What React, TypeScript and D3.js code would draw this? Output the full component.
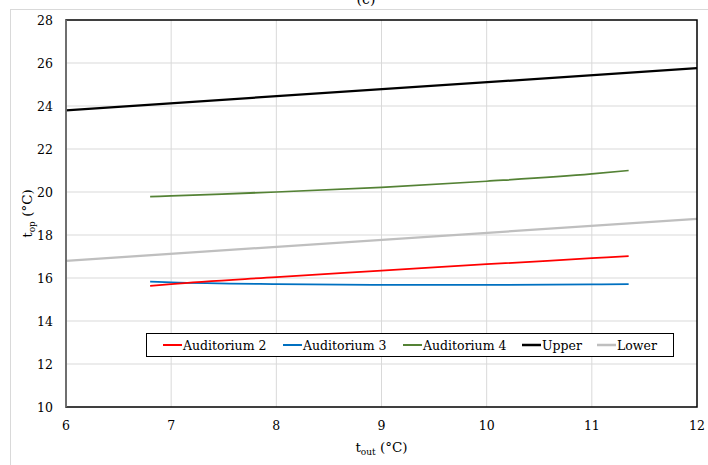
import * as d3 from "d3";
import { useRef, useEffect } from "react";

const xTicks = [6, 7, 8, 9, 10, 11, 12];
const yTicks = [10, 12, 14, 16, 18, 20, 22, 24, 26, 28];

const auditX = [6.8, 7, 8, 9, 10, 11, 11.35];
const auditorium2 = [15.63, 15.72, 16.04, 16.34, 16.64, 16.92, 17.02];
const auditorium3 = [15.83, 15.8, 15.72, 15.68, 15.68, 15.7, 15.72];
const auditorium4 = [19.78, 19.82, 20.0, 20.22, 20.5, 20.84, 21.0];

const limitX = [6, 12];
const upper = [23.8, 25.76];
const lower = [16.8, 18.75];

const seriesNames = ["Auditorium 2", "Auditorium 3", "Auditorium 4", "Upper", "Lower"];
const seriesColors = ["#ff0000", "#0070c0", "#548235", "#000000", "#bfbfbf"];

const W = 708;
const H = 465;
const margin = { left: 66, top: 20, right: 11, bottom: 58 };
const font = "DejaVu Serif";

const App = () => {
  const svgRef = useRef(null);

  useEffect(() => {
    const width = W - margin.left - margin.right;
    const height = H - margin.top - margin.bottom;

    const x = d3.scaleLinear().domain([6, 12]).range([0, width]);
    const y = d3.scaleLinear().domain([10, 28]).range([height, 0]);

    const svgEl = d3.select(svgRef.current);
    svgEl.selectAll("*").remove();

    // outer chart border
    svgEl
      .append("rect")
      .attr("x", 10.5)
      .attr("y", 9.5)
      .attr("width", W + 20)
      .attr("height", H + 20)
      .attr("fill", "white")
      .attr("stroke", "#d9d9d9");

    // cut-off title
    svgEl
      .append("text")
      .attr("x", 366)
      .attr("y", 4)
      .attr("text-anchor", "middle")
      .attr("font-family", font)
      .attr("font-size", 14)
      .text("(c)");

    const svg = svgEl
      .append("g")
      .attr("transform", `translate(${margin.left},${margin.top})`);

    // grid
    svg
      .append("g")
      .selectAll("line")
      .data(xTicks.slice(1, -1))
      .join("line")
      .attr("x1", (d) => x(d))
      .attr("x2", (d) => x(d))
      .attr("y1", 0)
      .attr("y2", height)
      .attr("stroke", "#d9d9d9");
    svg
      .append("g")
      .selectAll("line")
      .data(yTicks.slice(1, -1))
      .join("line")
      .attr("x1", 0)
      .attr("x2", width)
      .attr("y1", (d) => y(d))
      .attr("y2", (d) => y(d))
      .attr("stroke", "#d9d9d9");

    // tick labels
    svg
      .append("g")
      .selectAll("text")
      .data(xTicks)
      .join("text")
      .attr("x", (d) => x(d))
      .attr("y", height + 23)
      .attr("text-anchor", "middle")
      .attr("font-family", font)
      .attr("font-size", 12.5)
      .text((d) => d);
    svg
      .append("g")
      .selectAll("text")
      .data(yTicks)
      .join("text")
      .attr("x", -13)
      .attr("y", (d) => y(d) + 4.5)
      .attr("text-anchor", "end")
      .attr("font-family", font)
      .attr("font-size", 12.5)
      .text((d) => d);

    // axis titles
    const xt = svg
      .append("text")
      .attr("x", width / 2)
      .attr("y", height + 45)
      .attr("text-anchor", "middle")
      .attr("font-family", font)
      .attr("font-size", 13.5);
    xt.append("tspan").text("t");
    xt.append("tspan").attr("font-size", 9).attr("dy", 3).text("out");
    xt.append("tspan").attr("dy", -3).text(" (°C)");

    const yt = svg
      .append("text")
      .attr("transform", `translate(${-34},${height / 2}) rotate(-90)`)
      .attr("text-anchor", "middle")
      .attr("font-family", font)
      .attr("font-size", 13.5);
    yt.append("tspan").text("t");
    yt.append("tspan").attr("font-size", 9).attr("dy", 3).text("op");
    yt.append("tspan").attr("dy", -3).text(" (°C)");

    // lines
    const line = d3
      .line()
      .x((d) => x(d[0]))
      .y((d) => y(d[1]))
      .curve(d3.curveMonotoneX);

    const series = [
      { xs: limitX, ys: lower, i: 4 },
      { xs: limitX, ys: upper, i: 3 },
      { xs: auditX, ys: auditorium4, i: 2 },
      { xs: auditX, ys: auditorium3, i: 1 },
      { xs: auditX, ys: auditorium2, i: 0 },
    ];
    series.forEach((s) => {
      svg
        .append("path")
        .datum(s.xs.map((v, k) => [v, s.ys[k]]))
        .attr("fill", "none")
        .attr("stroke", seriesColors[s.i])
        .attr("stroke-width", s.i >= 3 ? 2.25 : 1.75)
        .attr("d", line);
    });

    // plot frame
    svg
      .append("rect")
      .attr("x", 0)
      .attr("y", 0)
      .attr("width", width)
      .attr("height", height)
      .attr("fill", "none")
      .attr("stroke", "black")
      .attr("stroke-width", 1.5);
    svg
      .append("line")
      .attr("x1", 0)
      .attr("x2", 0)
      .attr("y1", 0)
      .attr("y2", height)
      .attr("stroke", "#808080")
      .attr("stroke-width", 1.5);

    // legend
    const lg = svgEl.append("g").attr("transform", "translate(146,333)");
    lg.append("rect")
      .attr("x", 0.5)
      .attr("y", 0.5)
      .attr("width", 527)
      .attr("height", 23)
      .attr("fill", "white")
      .attr("stroke", "black");
    const itemX = [17, 137, 257, 376, 451];
    seriesNames.forEach((name, i) => {
      const g = lg.append("g").attr("transform", `translate(${itemX[i]},12)`);
      g.append("line")
        .attr("x1", 0)
        .attr("x2", 19)
        .attr("stroke", seriesColors[i])
        .attr("stroke-width", i >= 3 ? 2.5 : 2);
      g.append("text")
        .attr("x", 20)
        .attr("y", 4.5)
        .attr("font-family", font)
        .attr("font-size", 12.5)
        .text(name);
    });
  }, []);

  return (
    <div style={{ position: "absolute", left: 0, top: 0 }}>
      <svg ref={svgRef} width={W} height={H} style={{ display: "block" }} />
    </div>
  );
};

export default App;
